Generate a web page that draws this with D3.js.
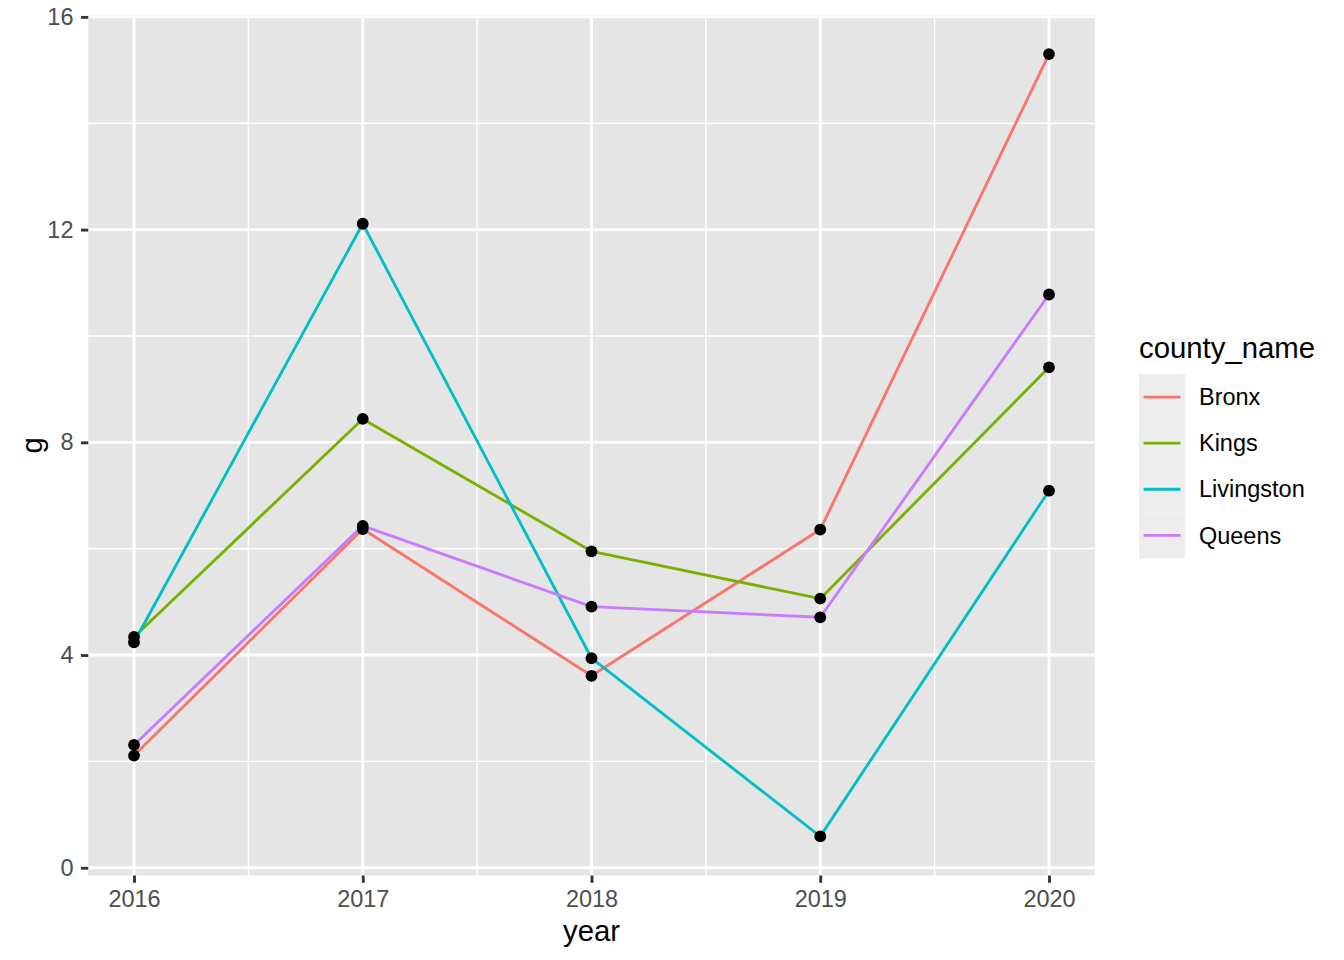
<!DOCTYPE html>
<html>
<head>
<meta charset="utf-8">
<script src="https://cdn.jsdelivr.net/npm/d3@7"></script>
<style>
  html, body { margin: 0; padding: 0; background: #ffffff; }
  svg { display: block; font-family: "Liberation Sans", Arial, Helvetica, sans-serif; }
</style>
</head>
<body>
<svg id="chart" width="1344" height="960"></svg>
<script>
const years = [2016, 2017, 2018, 2019, 2020];
const counties = ["Bronx", "Kings", "Livingston", "Queens"];
const bronx = [2.11, 6.37, 3.61, 6.36, 15.30];
const kings = [4.34, 8.44, 5.95, 5.06, 9.41];
const livingston = [4.24, 12.11, 3.94, 0.59, 7.09];
const queens = [2.31, 6.43, 4.91, 4.71, 10.78];
const colors = ["#F8766D", "#7CAE00", "#00BFC4", "#C77CFF"];
const yTicks = [0, 4, 8, 12, 16];
const yMinor = [2, 6, 10, 14];
const xMinor = [2016.5, 2017.5, 2018.5, 2019.5];

const seriesValues = [bronx, kings, livingston, queens];
const series = counties.map((name, i) => ({
  name,
  color: colors[i],
  values: years.map((yr, j) => ({ year: yr, g: seriesValues[i][j] }))
}));

const svg = d3.select("#chart");
const panel = { left: 88.25, right: 1094.75, top: 15, bottom: 875.5 };

const allG = seriesValues.flat();
const gMin = d3.min(allG), gMax = d3.max(allG), gR = gMax - gMin;
const xR = d3.max(years) - d3.min(years);

const x = d3.scaleLinear()
  .domain([d3.min(years) - 0.05 * xR, d3.max(years) + 0.05 * xR])
  .range([panel.left, panel.right]);
const y = d3.scaleLinear()
  .domain([gMin - 0.05 * gR, gMax + 0.05 * gR])
  .range([panel.bottom, panel.top]);

// panel background
svg.append("rect")
  .attr("x", panel.left).attr("y", panel.top)
  .attr("width", panel.right - panel.left)
  .attr("height", panel.bottom - panel.top)
  .attr("fill", "#E5E5E5");

const grid = svg.append("g");
// minor grid
grid.selectAll("line.ymin").data(yMinor).join("line")
  .attr("x1", panel.left).attr("x2", panel.right)
  .attr("y1", d => y(d)).attr("y2", d => y(d))
  .attr("stroke", "#fff").attr("stroke-width", 1.42);
grid.selectAll("line.xmin").data(xMinor).join("line")
  .attr("y1", panel.top).attr("y2", panel.bottom)
  .attr("x1", d => x(d)).attr("x2", d => x(d))
  .attr("stroke", "#fff").attr("stroke-width", 1.42);
// major grid
grid.selectAll("line.ymaj").data(yTicks).join("line")
  .attr("x1", panel.left).attr("x2", panel.right)
  .attr("y1", d => y(d)).attr("y2", d => y(d))
  .attr("stroke", "#fff").attr("stroke-width", 2.85);
grid.selectAll("line.xmaj").data(years).join("line")
  .attr("y1", panel.top).attr("y2", panel.bottom)
  .attr("x1", d => x(d)).attr("x2", d => x(d))
  .attr("stroke", "#fff").attr("stroke-width", 2.85);

// axes
const xAxis = d3.axisBottom(x).tickValues(years).tickFormat(d3.format("d"))
  .tickSize(7.3).tickPadding(7.5);
const gx = svg.append("g").attr("transform", `translate(0,${panel.bottom})`).call(xAxis);
gx.select(".domain").remove();
gx.selectAll(".tick line").attr("stroke", "#333333").attr("stroke-width", 2.85);
gx.selectAll(".tick text").attr("fill", "#4D4D4D").attr("font-size", "23.47px")
  .attr("font-family", "Liberation Sans, Arial, sans-serif");

const yAxis = d3.axisLeft(y).tickValues(yTicks).tickFormat(d3.format("d"))
  .tickSize(7.3).tickPadding(7.5);
const gy = svg.append("g").attr("transform", `translate(${panel.left},0)`).call(yAxis);
gy.select(".domain").remove();
gy.selectAll(".tick line").attr("stroke", "#333333").attr("stroke-width", 2.85);
gy.selectAll(".tick text").attr("fill", "#4D4D4D").attr("font-size", "23.47px")
  .attr("font-family", "Liberation Sans, Arial, sans-serif");

// lines
const line = d3.line().x(d => x(d.year)).y(d => y(d.g));
svg.append("g").selectAll("path").data(series).join("path")
  .attr("d", d => line(d.values))
  .attr("fill", "none")
  .attr("stroke", d => d.color)
  .attr("stroke-width", 2.85)
  .attr("stroke-linejoin", "round")
  .attr("stroke-linecap", "butt");

// points
svg.append("g").selectAll("circle")
  .data(series.flatMap(s => s.values))
  .join("circle")
  .attr("cx", d => x(d.year)).attr("cy", d => y(d.g))
  .attr("r", 5.9).attr("fill", "#000");

// axis titles
svg.append("text")
  .attr("x", (panel.left + panel.right) / 2).attr("y", 941)
  .attr("text-anchor", "middle").attr("font-size", "29.33px").attr("fill", "#000")
  .text("year");
svg.append("text")
  .attr("transform", `translate(42,${(panel.top + panel.bottom) / 2}) rotate(-90)`)
  .attr("text-anchor", "middle").attr("font-size", "29.33px").attr("fill", "#000")
  .text("g");

// legend
const leg = svg.append("g").attr("transform", "translate(1139,0)");
leg.append("text").attr("x", 0).attr("y", 358)
  .attr("font-size", "29.33px").attr("fill", "#000").text("county_name");
const keyH = 46.1, keyTop = 374;
const items = leg.selectAll("g.item").data(series).join("g")
  .attr("transform", (d, i) => `translate(0,${keyTop + i * keyH})`);
items.append("rect").attr("x", 0).attr("y", 0).attr("width", 46.1).attr("height", keyH)
  .attr("fill", "#EDEDED");
items.append("line").attr("x1", 4.6).attr("x2", 41.5)
  .attr("y1", keyH / 2).attr("y2", keyH / 2)
  .attr("stroke", d => d.color).attr("stroke-width", 2.85);
items.append("text").attr("x", 60).attr("y", keyH / 2).attr("dy", "0.35em")
  .attr("font-size", "23.47px").attr("fill", "#000").text(d => d.name);
</script>
</body>
</html>
